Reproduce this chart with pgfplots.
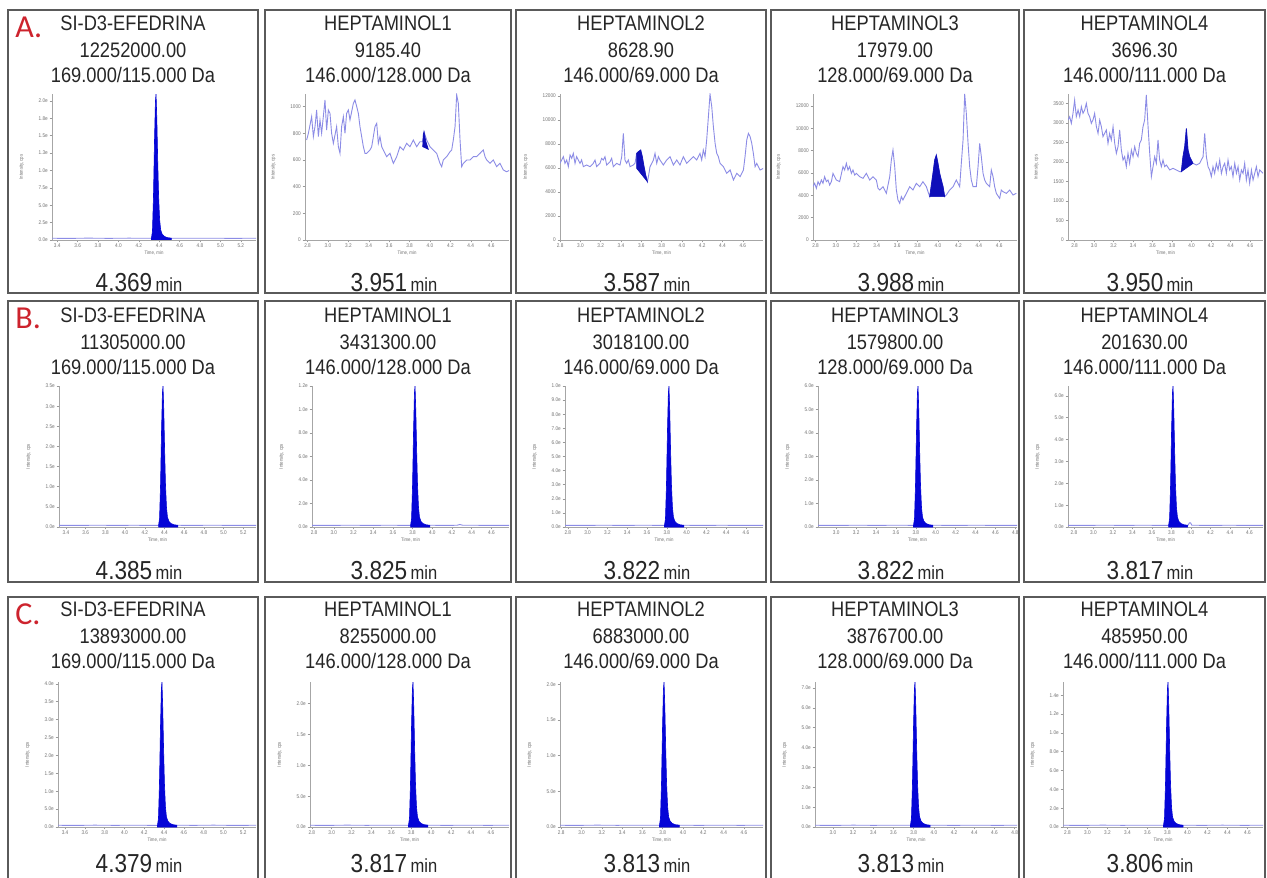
\documentclass[border=0pt]{standalone}
\usepackage{pgfplots}
\pgfplotsset{compat=1.18}
\usepackage{fontspec}
\setmainfont{Liberation Sans}
\newfontfamily\tfont{Liberation Sans}[FakeStretch=0.87]
\newfontfamily\lfont{Carlito}
\definecolor{trace}{RGB}{140,140,230}
\definecolor{pk}{RGB}{5,5,215}
\definecolor{pkA}{RGB}{15,15,185}
\definecolor{redl}{RGB}{205,35,45}
\definecolor{frame}{RGB}{90,90,90}
\pgfplotsset{
 chrom/.style={
  scale only axis, anchor=south west,
  axis lines*=left,
  axis line style={black!35, line width=0.35pt},
  tick style={black!40, line width=0.25pt},
  tick align=outside, major tick length=1.2pt,
  /pgf/number format/assume math mode=true,
  /pgf/number format/1000 sep={},
  ticklabel style={font=\tfont\fontsize{2.7}{3}\selectfont, text=black!55, inner sep=0.7pt},
  xtick distance=0.2,
  xticklabel style={/pgf/number format/.cd, fixed, fixed zerofill, precision=1},
  xlabel={Time, min}, ylabel={Intensity, cps},
  ylabel shift=6pt,
  xlabel style={font=\tfont\fontsize{2.5}{3}\selectfont, text=black!55, inner sep=0.5pt},
  ylabel style={font=\tfont\fontsize{2.5}{3}\selectfont, text=black!55, inner sep=0.5pt},
  ymin=0, enlargelimits=false, scaled ticks=false,
 },
 sciy/.style={yticklabel style={/pgf/number format/.cd, sci, precision=1, sci zerofill, sci generic={mantissa sep={},exponent={e##1}}}},
 tr/.style={trace, line width=0.45pt},
 pkf/.style={draw=pk, fill=pk, line width=0.3pt},
 pka/.style={draw=pkA, fill=pkA, line width=0.3pt},
}
\tikzset{tt/.style={anchor=base, font=\tfont\fontsize{10.5}{12}\selectfont, text=black!85, inner sep=0pt}}
\newcommand\ptitle[5]{%
  \node[tt] at (#1,#2) {#3};
  \node[tt] at (#1,#2+27) {#4};
  \node[tt] at (#1,#2+52) {#5};}
\newcommand\prt[3]{\node[anchor=base, inner sep=0pt, text=black!85] at (#1,#2) {\tfont{\fontsize{13}{14}\selectfont #3}\,{\tfont\fontsize{9.5}{10}\selectfont min}};}
\begin{document}
\begin{tikzpicture}[x=0.5pt,y=-0.5pt]
\useasboundingbox (0,0) rectangle (1267,877);
\fill[white] (0,0) rectangle (1267,877);
\foreach \l/\r in {8/258,265/511,516/766,771/1019,1024/1265}{
  \foreach \t/\b in {10/293,301/582,597/890}{
    \draw[frame, line width=1.2pt] (\l,\t) rectangle (\r,\b);
  }}
% ---------------- Row A ----------------
\begin{axis}[chrom, sciy, at={(26pt,-120pt)}, width=102pt, height=73pt, xmin=3.349, xmax=5.349, ymax=2.1e6, ytick distance=2.5e5]
\addplot[tr] coordinates {(3.349,25200)(3.5,23000)(3.7,26500)(3.9,24000)(4.1,26000)(4.3,25000)(4.5,26000)(4.7,24500)(4.9,25500)(5.1,24000)(5.349,25000)};
\addplot[pkf] coordinates {(4.324,25200)(4.334,126000)(4.344,630000)(4.354,1428000)(4.363,1995000)(4.369,2100000)(4.377,1722000)(4.385,1155000)(4.394,630000)(4.404,294000)(4.414,147000)(4.429,84000)(4.449,52500)(4.479,33600)(4.519,25200)} \closedcycle;
\end{axis}
\begin{axis}[chrom, at={(152.5pt,-120pt)}, width=102pt, height=73pt, xmin=2.775, xmax=4.775, ymax=1095, ytick distance=200]
\addplot[tr] coordinates {(2.791,750)(2.808,800)(2.840,925)(2.857,775)(2.873,850)(2.889,975)(2.906,775)(2.922,900)(2.938,800)(2.971,1050)(2.987,825)(3.004,975)(3.020,950)(3.036,800)(3.053,725)(3.085,850)(3.102,700)(3.118,650)(3.134,850)(3.151,925)(3.167,800)(3.183,950)(3.200,975)(3.216,900)(3.249,1025)(3.265,1050)(3.282,1000)(3.298,950)(3.314,850)(3.347,700)(3.363,650)(3.380,650)(3.412,675)(3.429,700)(3.461,850)(3.478,875)(3.494,725)(3.510,775)(3.527,700)(3.543,675)(3.576,625)(3.608,650)(3.641,575)(3.674,625)(3.706,700)(3.739,675)(3.772,725)(3.804,700)(3.837,750)(3.870,700)(3.902,737)(3.929,737)(3.942,812)(3.968,750)(4.000,700)(4.033,675)(4.066,650)(4.098,575)(4.115,550)(4.131,600)(4.164,625)(4.197,662)(4.213,675)(4.229,750)(4.246,850)(4.262,1090)(4.278,1025)(4.295,750)(4.311,550)(4.327,575)(4.360,600)(4.393,600)(4.425,625)(4.458,625)(4.491,650)(4.523,675)(4.540,625)(4.556,600)(4.589,575)(4.621,600)(4.654,550)(4.687,575)(4.719,525)(4.752,512)(4.785,525)};
\addplot[pka] coordinates {(3.929,700)(3.934,790)(3.942,812)(3.960,740)(3.984,680)} --cycle;
\end{axis}
\begin{axis}[chrom, at={(280pt,-120pt)}, width=101.5pt, height=73pt, xmin=2.799, xmax=4.799, ymax=12167, ytick distance=2000]
\addplot[tr] coordinates {(2.799,6389)(2.832,6944)(2.848,6389)(2.865,6667)(2.881,6111)(2.898,7083)(2.914,6806)(2.930,7222)(2.947,6389)(2.963,6944)(2.996,6389)(3.012,6667)(3.029,6111)(3.062,6250)(3.095,6111)(3.127,6389)(3.144,6667)(3.160,6111)(3.193,6389)(3.209,6806)(3.226,6667)(3.242,6944)(3.259,6250)(3.292,6528)(3.308,6806)(3.324,6111)(3.357,6389)(3.390,6250)(3.407,6944)(3.423,8889)(3.439,6667)(3.456,6389)(3.472,6667)(3.489,6111)(3.521,6250)(3.538,6389)(3.554,7222)(3.571,7361)(3.594,7500)(3.610,6944)(3.627,6111)(3.643,5417)(3.660,4861)(3.670,5278)(3.686,6111)(3.719,6667)(3.735,7222)(3.752,6389)(3.768,6944)(3.784,6667)(3.817,6250)(3.850,6667)(3.883,6944)(3.916,6250)(3.949,6667)(3.981,6250)(4.014,6944)(4.047,6389)(4.080,6667)(4.113,6944)(4.146,6667)(4.178,7222)(4.195,6667)(4.211,7500)(4.228,6944)(4.244,8333)(4.261,10278)(4.277,12160)(4.294,11111)(4.310,9444)(4.327,8056)(4.343,7222)(4.359,6944)(4.376,6389)(4.409,6111)(4.442,5556)(4.475,5833)(4.508,5000)(4.540,5556)(4.573,5278)(4.606,5833)(4.622,6944)(4.639,8333)(4.655,8889)(4.672,8611)(4.688,8056)(4.704,7222)(4.721,6111)(4.737,6389)(4.770,5833)(4.803,5972)};
\addplot[pka] coordinates {(3.554,5972)(3.554,7222)(3.571,7361)(3.594,7500)(3.610,6944)(3.627,6111)(3.643,5417)(3.660,4861)} --cycle;
\end{axis}
\begin{axis}[chrom, at={(406.5pt,-120pt)}, width=102pt, height=73pt, xmin=2.775, xmax=4.775, ymax=13075, ytick distance=2000]
\addplot[tr] coordinates {(2.775,4776)(2.791,5075)(2.808,4627)(2.824,5224)(2.840,4925)(2.857,5373)(2.873,5075)(2.889,5672)(2.906,5224)(2.922,5373)(2.938,4925)(2.955,5224)(2.971,5970)(2.987,5672)(3.004,5373)(3.036,5224)(3.069,6567)(3.085,6269)(3.102,6866)(3.118,6269)(3.134,6567)(3.151,5970)(3.167,6269)(3.183,5821)(3.200,5970)(3.232,5672)(3.265,5522)(3.298,5970)(3.331,5373)(3.363,5672)(3.396,5373)(3.412,4627)(3.429,4478)(3.461,4776)(3.494,4179)(3.527,5672)(3.543,7164)(3.559,8060)(3.576,6567)(3.592,4478)(3.608,3582)(3.625,3284)(3.641,3881)(3.657,3582)(3.690,4179)(3.723,4776)(3.755,4478)(3.788,5075)(3.821,4776)(3.853,5224)(3.886,4776)(3.919,3881)(3.951,5970)(3.968,7164)(3.984,7612)(4.000,6866)(4.017,5970)(4.033,5373)(4.050,4776)(4.066,3881)(4.082,4030)(4.115,4478)(4.148,4776)(4.180,5373)(4.213,4776)(4.229,6866)(4.246,8955)(4.262,13075)(4.278,11343)(4.295,8657)(4.311,6567)(4.327,5373)(4.344,4776)(4.376,4776)(4.393,6567)(4.409,8657)(4.425,7463)(4.442,5970)(4.458,5373)(4.474,5075)(4.507,4776)(4.523,6269)(4.540,5672)(4.556,4776)(4.572,4179)(4.605,3731)(4.621,4478)(4.638,4328)(4.670,4179)(4.703,4478)(4.736,4030)(4.768,4179)};
\addplot[pka] coordinates {(3.919,3881)(3.951,5970)(3.968,7164)(3.984,7612)(4.000,6866)(4.017,5970)(4.033,5373)(4.050,4776)(4.066,3881)} --cycle;
\end{axis}
\begin{axis}[chrom, at={(534pt,-120pt)}, width=97.5pt, height=73pt, xmin=2.733, xmax=4.733, ymax=3744, ytick distance=500]
\addplot[tr] coordinates {(2.733,3077)(2.750,3162)(2.767,2991)(2.784,3248)(2.801,3590)(2.818,3162)(2.836,3333)(2.853,3162)(2.870,3419)(2.887,3248)(2.904,3333)(2.921,3504)(2.938,3248)(2.955,3162)(2.972,2991)(2.989,3077)(3.006,3248)(3.024,2906)(3.041,2735)(3.058,3077)(3.075,2906)(3.092,2650)(3.109,2735)(3.126,2821)(3.143,2479)(3.160,2735)(3.177,2564)(3.195,2906)(3.212,2479)(3.229,2222)(3.246,2393)(3.263,2821)(3.280,2308)(3.297,2051)(3.314,2137)(3.331,1880)(3.348,2222)(3.365,1966)(3.383,2308)(3.400,2137)(3.417,2393)(3.434,2222)(3.451,2137)(3.468,2479)(3.485,2564)(3.502,2906)(3.519,3077)(3.536,3718)(3.554,2906)(3.571,2222)(3.588,1624)(3.605,1880)(3.622,2137)(3.639,1966)(3.656,2564)(3.673,2051)(3.690,1880)(3.707,2051)(3.724,1880)(3.742,1923)(3.776,1795)(3.810,1838)(3.844,1795)(3.878,1752)(3.895,1752)(3.912,2137)(3.930,2393)(3.947,2863)(3.964,2308)(3.981,2137)(3.998,2051)(4.015,1966)(4.049,1923)(4.083,1966)(4.118,2137)(4.135,2735)(4.152,2137)(4.169,1880)(4.186,1795)(4.203,1624)(4.220,1880)(4.237,1709)(4.254,1966)(4.272,1795)(4.289,2051)(4.306,1709)(4.323,1880)(4.340,1966)(4.357,1709)(4.374,2051)(4.391,1795)(4.408,1880)(4.425,1624)(4.443,1966)(4.460,1709)(4.477,1880)(4.494,1538)(4.511,1795)(4.528,1709)(4.545,1966)(4.562,1538)(4.579,1795)(4.596,1453)(4.614,1795)(4.631,1538)(4.648,1709)(4.665,1880)(4.682,1624)(4.699,1795)(4.733,1709)};
\addplot[pka] coordinates {(3.895,1752)(3.912,2137)(3.930,2393)(3.947,2863)(3.964,2308)(3.981,2137)(3.998,2051)(4.015,1966)} --cycle;
\end{axis}
% ---------------- Row B ----------------
\begin{axis}[chrom, sciy, at={(29.5pt,-263.5pt)}, width=98.5pt, height=70.5pt, xmin=3.329, xmax=5.329, ymax=3.5e6, ytick distance=5e5]
\addplot[tr] coordinates {(3.329,42000)(3.5,39000)(3.7,44000)(3.9,41000)(4.1,43000)(4.3,40000)(4.5,43000)(4.7,41000)(4.9,44000)(5.1,40000)(5.329,42000)};
\addplot[pkf] coordinates {(4.340,42000)(4.350,210000)(4.360,1050000)(4.370,2380000)(4.379,3325000)(4.385,3500000)(4.393,2870000)(4.401,1925000)(4.410,1050000)(4.420,490000)(4.430,245000)(4.445,140000)(4.465,87500)(4.495,56000)(4.535,42000)} \closedcycle;
\end{axis}
\begin{axis}[chrom, sciy, at={(156pt,-263.5pt)}, width=98.5pt, height=70.5pt, xmin=2.779, xmax=4.779, ymax=1.2e6, ytick distance=2e5]
\addplot[tr] coordinates {(2.779,14400)(2.95,13500)(3.15,15200)(3.35,14000)(3.55,14800)(3.75,14200)(3.95,15000)(4.15,13800)(4.25,14800)(4.28,21000)(4.31,15000)(4.45,14600)(4.6,14000)(4.779,14400)};
\addplot[pkf] coordinates {(3.780,14400)(3.790,72000)(3.800,360000)(3.810,816000)(3.819,1140000)(3.825,1200000)(3.833,984000)(3.841,660000)(3.850,360000)(3.860,168000)(3.870,84000)(3.885,48000)(3.905,30000)(3.935,19200)(3.975,14400)} \closedcycle;
\end{axis}
\begin{axis}[chrom, sciy, at={(282.5pt,-263.5pt)}, width=99pt, height=70.5pt, xmin=2.772, xmax=4.772, ymax=1.0e6, ytick distance=1e5]
\addplot[tr] coordinates {(2.772,12000)(2.95,11200)(3.15,12600)(3.35,11600)(3.55,12400)(3.75,11800)(3.95,12500)(4.15,11500)(4.35,12300)(4.55,11700)(4.772,12000)};
\addplot[pkf] coordinates {(3.777,12000)(3.787,60000)(3.797,300000)(3.807,680000)(3.816,950000)(3.822,1000000)(3.830,820000)(3.838,550000)(3.847,300000)(3.857,140000)(3.867,70000)(3.882,40000)(3.902,25000)(3.932,16000)(3.972,12000)} \closedcycle;
\end{axis}
\begin{axis}[chrom, sciy, at={(409pt,-263.5pt)}, width=99.5pt, height=70.5pt, xmin=2.817, xmax=4.817, ymax=6.0e5, ytick distance=1e5]
\addplot[tr] coordinates {(2.817,7200)(3.0,6700)(3.2,7600)(3.4,7000)(3.6,7500)(3.8,7100)(4.0,7400)(4.2,6900)(4.4,7500)(4.6,7000)(4.817,7200)};
\addplot[pkf] coordinates {(3.777,7200)(3.787,36000)(3.797,180000)(3.807,408000)(3.816,570000)(3.822,600000)(3.830,492000)(3.838,330000)(3.847,180000)(3.857,84000)(3.867,42000)(3.882,24000)(3.902,15000)(3.932,9600)(3.972,7200)} \closedcycle;
\end{axis}
\begin{axis}[chrom, sciy, at={(534pt,-263.5pt)}, width=97.5pt, height=70.5pt, xmin=2.740, xmax=4.740, ymax=64500, ytick distance=1e4]
\addplot[tr] coordinates {(2.74,774)(2.9,720)(3.1,820)(3.3,750)(3.5,800)(3.7,760)(3.97,774)(3.985,1900)(3.997,1900)(4.01,800)(4.2,750)(4.4,800)(4.6,740)(4.74,774)};
\addplot[pkf] coordinates {(3.772,774)(3.782,3870)(3.792,19350)(3.802,43860)(3.811,61275)(3.817,64500)(3.825,52890)(3.833,35475)(3.842,19350)(3.852,9030)(3.862,4515)(3.877,2580)(3.897,1613)(3.927,1032)(3.967,774)} \closedcycle;
\end{axis}
% ---------------- Row C ----------------
\begin{axis}[chrom, sciy, at={(29pt,-413.5pt)}, width=99pt, height=72.5pt, xmin=3.329, xmax=5.329, ymax=4.05e6, ytick distance=5e5]
\addplot[tr] coordinates {(3.329,48600)(3.5,45000)(3.7,51000)(3.9,47000)(4.1,50000)(4.3,46500)(4.5,50500)(4.7,47000)(4.9,51000)(5.1,46000)(5.329,48600)};
\addplot[pkf] coordinates {(4.334,48600)(4.344,243000)(4.354,1215000)(4.364,2754000)(4.373,3847500)(4.379,4050000)(4.387,3321000)(4.395,2227500)(4.404,1215000)(4.414,567000)(4.424,283500)(4.439,162000)(4.459,101250)(4.489,64800)(4.529,48600)} \closedcycle;
\end{axis}
\begin{axis}[chrom, sciy, at={(155pt,-413.5pt)}, width=99.5pt, height=72.5pt, xmin=2.782, xmax=4.782, ymax=2.35e6, ytick distance=5e5]
\addplot[tr] coordinates {(2.782,28200)(2.95,26500)(3.15,29800)(3.35,27500)(3.55,29200)(3.75,27800)(3.95,29500)(4.15,27000)(4.35,29000)(4.55,27500)(4.782,28200)};
\addplot[pkf] coordinates {(3.772,28200)(3.782,141000)(3.792,705000)(3.802,1598000)(3.811,2232500)(3.817,2350000)(3.825,1927000)(3.833,1292500)(3.842,705000)(3.852,329000)(3.862,164500)(3.877,94000)(3.897,58750)(3.927,37600)(3.967,28200)} \closedcycle;
\end{axis}
\begin{axis}[chrom, sciy, at={(280pt,-413.5pt)}, width=101.5pt, height=72.5pt, xmin=2.788, xmax=4.788, ymax=2.03e6, ytick distance=5e5]
\addplot[tr] coordinates {(2.788,24360)(2.95,23000)(3.15,25700)(3.35,23800)(3.55,25200)(3.75,24000)(3.95,25400)(4.15,23500)(4.35,25000)(4.55,23800)(4.788,24360)};
\addplot[pkf] coordinates {(3.768,24360)(3.778,121800)(3.788,609000)(3.798,1380400)(3.807,1928500)(3.813,2030000)(3.821,1664600)(3.829,1116500)(3.838,609000)(3.848,284200)(3.858,142100)(3.873,81200)(3.893,50750)(3.923,32480)(3.963,24360)} \closedcycle;
\end{axis}
\begin{axis}[chrom, sciy, at={(407.5pt,-413.5pt)}, width=101pt, height=72.5pt, xmin=2.823, xmax=4.823, ymax=7.3e5, ytick distance=1e5]
\addplot[tr] coordinates {(2.823,8760)(3.0,8200)(3.2,9200)(3.4,8500)(3.6,9100)(3.8,8600)(4.0,9000)(4.2,8400)(4.4,9100)(4.6,8500)(4.823,8760)};
\addplot[pkf] coordinates {(3.768,8760)(3.778,43800)(3.788,219000)(3.798,496400)(3.807,693500)(3.813,730000)(3.821,598600)(3.829,401500)(3.838,219000)(3.848,102200)(3.858,51100)(3.873,29200)(3.893,18250)(3.923,11680)(3.963,8760)} \closedcycle;
\end{axis}
\begin{axis}[chrom, sciy, at={(531.5pt,-413.5pt)}, width=100pt, height=72.5pt, xmin=2.756, xmax=4.756, ymax=1.54e5, ytick distance=2e4]
\addplot[tr] coordinates {(2.756,1848)(2.95,1750)(3.15,1950)(3.35,1800)(3.55,1920)(3.75,1820)(3.95,1900)(4.15,1780)(4.35,1930)(4.55,1800)(4.756,1848)};
\addplot[pkf] coordinates {(3.761,1848)(3.771,9240)(3.781,46200)(3.791,104720)(3.800,146300)(3.806,154000)(3.814,126280)(3.822,84700)(3.831,46200)(3.841,21560)(3.851,10780)(3.866,6160)(3.886,3850)(3.916,2464)(3.956,1848)} \closedcycle;
\end{axis}
% ---------------- texts ----------------
\node[anchor=base west, inner sep=0pt, text=redl, font=\lfont\fontsize{16}{16}\selectfont] at (15,38) {A.};
\node[anchor=base west, inner sep=0pt, text=redl, font=\lfont\fontsize{16}{16}\selectfont] at (15,328) {B.};
\node[anchor=base west, inner sep=0pt, text=redl, font=\lfont\fontsize{16}{16}\selectfont] at (15,624) {C.};
\ptitle{133}{30.5}{SI-D3-EFEDRINA}{12252000.00}{169.000/115.000 Da}
\ptitle{388}{30.5}{HEPTAMINOL1}{9185.40}{146.000/128.000 Da}
\ptitle{641}{30.5}{HEPTAMINOL2}{8628.90}{146.000/69.000 Da}
\ptitle{895}{30.5}{HEPTAMINOL3}{17979.00}{128.000/69.000 Da}
\ptitle{1144.5}{30.5}{HEPTAMINOL4}{3696.30}{146.000/111.000 Da}
\ptitle{133}{322}{SI-D3-EFEDRINA}{11305000.00}{169.000/115.000 Da}
\ptitle{388}{322}{HEPTAMINOL1}{3431300.00}{146.000/128.000 Da}
\ptitle{641}{322}{HEPTAMINOL2}{3018100.00}{146.000/69.000 Da}
\ptitle{895}{322}{HEPTAMINOL3}{1579800.00}{128.000/69.000 Da}
\ptitle{1144.5}{322}{HEPTAMINOL4}{201630.00}{146.000/111.000 Da}
\ptitle{133}{616}{SI-D3-EFEDRINA}{13893000.00}{169.000/115.000 Da}
\ptitle{388}{616}{HEPTAMINOL1}{8255000.00}{146.000/128.000 Da}
\ptitle{641}{616}{HEPTAMINOL2}{6883000.00}{146.000/69.000 Da}
\ptitle{895}{616}{HEPTAMINOL3}{3876700.00}{128.000/69.000 Da}
\ptitle{1144.5}{616}{HEPTAMINOL4}{485950.00}{146.000/111.000 Da}
\prt{139}{291}{4.369}
\prt{394}{291}{3.951}
\prt{647}{291}{3.587}
\prt{901}{291}{3.988}
\prt{1150}{291}{3.950}
\prt{139}{579}{4.385}
\prt{394}{579}{3.825}
\prt{647}{579}{3.822}
\prt{901}{579}{3.822}
\prt{1150}{579}{3.817}
\prt{139}{872}{4.379}
\prt{394}{872}{3.817}
\prt{647}{872}{3.813}
\prt{901}{872}{3.813}
\prt{1150}{872}{3.806}
\end{tikzpicture}
\end{document}
